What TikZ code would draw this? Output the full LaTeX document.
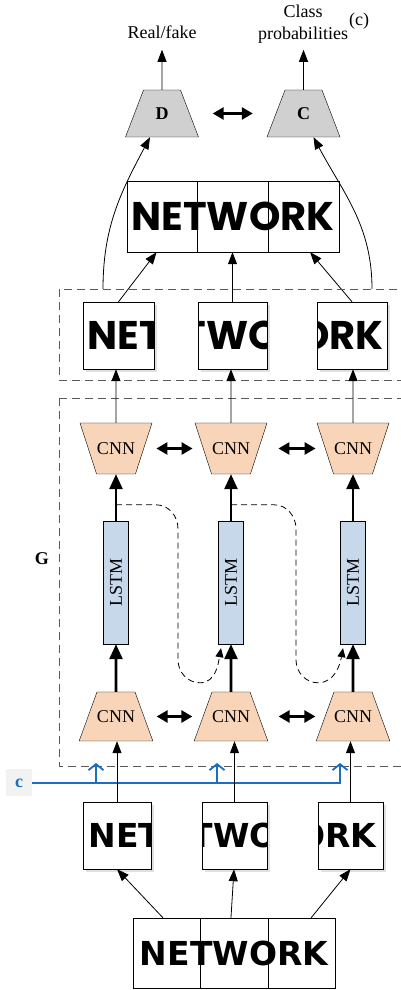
\documentclass[tikz,border=0pt]{standalone}
\usepackage{fontspec}
\usepackage{graphicx}
\setmainfont{Liberation Serif}
\newfontfamily\decofont{Poppins}
\newfontfamily\plainfont{DejaVu Sans}
\usetikzlibrary{arrows.meta,calc,positioning,shapes.geometric,shadows}

\definecolor{cnnfill}{HTML}{F8D5B8}
\definecolor{lstmfill}{HTML}{C6D8EA}
\definecolor{discfill}{HTML}{D0D0D0}
\definecolor{cblue}{HTML}{1B6EC2}

\newcommand{\capfont}{\fontsize{18}{22}\selectfont}
\newcommand{\topword}{\decofont\bfseries\fontsize{40}{40}\selectfont}
\newcommand{\lowword}{\plainfont\bfseries\fontsize{33}{33}\selectfont}

\tikzset{
  lbl/.style={font=\capfont, inner sep=0pt, align=center},
  disc/.style={trapezium, trapezium left angle=69, trapezium right angle=69,
    trapezium stretches body, minimum width=73pt, text height=12pt, text depth=0pt,
    inner xsep=0pt, inner ysep=17.5pt, draw, fill=discfill, font=\capfont\bfseries},
  cnndown/.style={trapezium, trapezium left angle=70, trapezium right angle=70,
    trapezium stretches body, minimum width=73pt, text height=12pt, text depth=0pt,
    inner xsep=0pt, inner ysep=18.5pt, draw, fill=cnnfill, font=\capfont},
  cnnup/.style={cnndown, shape border rotate=180, trapezium left angle=72,
    trapezium right angle=72, minimum width=72pt, inner ysep=19.5pt},
  lstm/.style={draw, fill=lstmfill, minimum width=25pt, minimum height=123pt,
    inner sep=0pt, font=\capfont},
  netbox/.style={draw, inner sep=0pt},
  slice/.style n args={3}{draw, fill=white, inner sep=0pt, minimum height=67pt,
    drop shadow={shadow xshift=3pt, shadow yshift=-3pt, fill=black!12, opacity=1},
    path picture={\node[draw=none, fill=none, inner sep=0pt, font=#1, xshift=#2]
      at (path picture bounding box.center) {#3};}},
  frame/.style={draw=black!65, dash pattern=on 8pt off 5pt, line width=0.9pt},
  thin/.style={line width=0.8pt, -{Triangle[length=12pt,width=9pt]}},
  thickarr/.style={line width=2.6pt, -{Triangle[length=15pt,width=13pt]}},
  biarrow/.style={line width=2.6pt, {Triangle[length=11pt,width=12pt]}-{Triangle[length=11pt,width=12pt]}},
  recur/.style={line width=0.8pt, dash pattern=on 6pt off 4pt, -{Triangle[length=9pt,width=8pt]}},
  cline/.style={draw=cblue, line width=1.8pt},
  barb/.style={-{Straight Barb[length=6pt,width=15pt]}},
  cbox/.style={fill=black!5, text=cblue, font=\capfont\bfseries, minimum width=26pt,
    minimum height=27pt, inner sep=0pt}
}

\begin{document}
\begin{tikzpicture}[x=1pt,y=1pt,on grid]
  \useasboundingbox (0,0) rectangle (401,990);

  \node[disc] (D) at (162,876.5) {D};
  \node[disc, right=141.5pt of D] (C) {C};
  \coordinate[above=40pt of D.north] (outD);
  \coordinate[above=40pt of C.north] (outC);
  \node[lbl] (real) at (162,958) {Real/fake};
  \node[lbl] (prob) at (303,966) {Class\\probabilities};
  \node[lbl, anchor=west] (sub) at (349,969) {(c)};
  \draw[thin] (D) -- (outD);
  \draw[thin] (C) -- (outC);
  \draw[biarrow, shorten <=23pt, shorten >=23pt] (D) -- (C);

  \node[netbox, font=\topword, minimum width=212pt, minimum height=71pt] (netT) at (233,773.5) {NETWORK};
  \foreach \f in {1/3,2/3}
    \draw ($(netT.north west)!\f!(netT.north east)$) -- ($(netT.south west)!\f!(netT.south east)$);

  \node[slice={\topword}{70.5pt}{NET\phantom{WORK}}, minimum width=71pt] (sliceT1) at (118.5,654.5) {};
  \node[slice={\topword}{0pt}{\phantom{NE}TWO\phantom{RK}}, minimum width=69pt, right=114pt of sliceT1] (sliceT2) {};
  \node[slice={\topword}{-70pt}{\phantom{NETW}ORK}, minimum width=70pt, right=119.5pt of sliceT2] (sliceT3) {};
  \draw[thin] (sliceT1.north) -- ($(netT.south west)!.14!(netT.south east)$);
  \draw[thin] (sliceT2.north) -- (sliceT2.north |- netT.south);
  \draw[thin] (sliceT3.north) -- ($(netT.south west)!.863!(netT.south east)$);

  \coordinate (feedD) at (103,701);
  \coordinate (feedC) at (372,701);
  \coordinate (inD) at ($(D.south)+(-12,0)$);
  \coordinate (inC) at ($(C.south)+(10,0)$);
  \draw[thin] (feedD) to[out=90,in=-118] (inD);
  \draw[thin] (feedC) to[out=90,in=-62] (inC);

  \draw[frame] (59,701) rectangle (410,610);
  \draw[frame] (59,592) rectangle (410,224);
  \node[lbl, font=\capfont\bfseries] (G) at (42,431) {G};

  \node[cnnup] (cnnU1) at (116,541.5) {CNN};
  \node[cnnup, right=115pt of cnnU1] (cnnU2) {CNN};
  \node[cnnup, right=122pt of cnnU2] (cnnU3) {CNN};
  \foreach \i in {1,2,3} {
    \node[lstm, below=134pt of cnnU\i] (lstm\i) {\rotatebox{90}{LSTM}};
    \node[cnndown, below=134pt of lstm\i] (cnnL\i) {CNN};
    \draw[thin] (cnnU\i) -- (cnnU\i |- sliceT\i.south);
    \draw[thickarr] (lstm\i) -- (cnnU\i);
    \draw[thickarr] (cnnL\i) -- (lstm\i);
    \coordinate (rec\i) at ($(lstm\i.north)+(0,16)$);
  }
  \draw[biarrow, shorten <=12.5pt, shorten >=10.5pt] (cnnU1) -- (cnnU2);
  \draw[biarrow, shorten <=19.5pt, shorten >=9.5pt] (cnnU2) -- (cnnU3);
  \draw[biarrow, shorten <=12.5pt, shorten >=10.5pt] (cnnL1) -- (cnnL2);
  \draw[biarrow, shorten <=19.5pt, shorten >=9.5pt] (cnnL2) -- (cnnL3);

  \draw[recur] (rec1) -- ++(40,0) to[out=0,in=90] ++(22,-24) -- ++(0,-131)
    to[out=-90,in=180] ++(22,-23) to[out=0,in=-100] ($(lstm2.south)+(-10,-4)$);
  \draw[recur] (rec2) -- ++(43,0) to[out=0,in=90] ++(22,-24) -- ++(0,-131)
    to[out=-90,in=180] ++(22,-23) to[out=0,in=-100] ($(lstm3.south)+(-10,-4)$);

  \node[cbox] (c) at (19,207) {c};
  \coordinate (tap1) at (96,207);
  \coordinate (tap2) at (217,207);
  \coordinate (tap3) at (340,207);
  \foreach \i in {1,2,3}
    \coordinate[above=20pt of tap\i] (tip\i);
  \draw[cline, barb] (c.east) -- (tap3) -- (tip3);
  \draw[cline, barb] (tap1) -- (tip1);
  \draw[cline, barb] (tap2) -- (tip2);

  \node[netbox, font=\lowword, minimum width=202pt, minimum height=70pt] (netB) at (234,37) {NETWORK};
  \foreach \f in {1/3,2/3}
    \draw ($(netB.north west)!\f!(netB.north east)$) -- ($(netB.south west)!\f!(netB.south east)$);

  \node[slice={\lowword}{65.5pt}{NET\phantom{WORK}}, minimum width=68pt] (sliceB1) at (117,154.5) {};
  \node[slice={\lowword}{0pt}{\phantom{NE}TWO\phantom{RK}}, minimum width=65pt, right=117.5pt of sliceB1] (sliceB2) {};
  \node[slice={\lowword}{-68pt}{\phantom{NETW}ORK}, minimum width=65pt, right=116pt of sliceB2] (sliceB3) {};
  \draw[thin] ($(netB.north west)!.149!(netB.north east)$) -- (sliceB1.south);
  \draw[thin] ($(netB.north west)!.485!(netB.north east)$) -- (sliceB2.south -| netB.north);
  \draw[thin] ($(netB.north west)!.881!(netB.north east)$) -- (sliceB3.south);
  \foreach \i in {1,2,3}
    \draw[thin] (sliceB\i.north) -- (sliceB\i.north |- cnnL\i.south);
\end{tikzpicture}
\end{document}
